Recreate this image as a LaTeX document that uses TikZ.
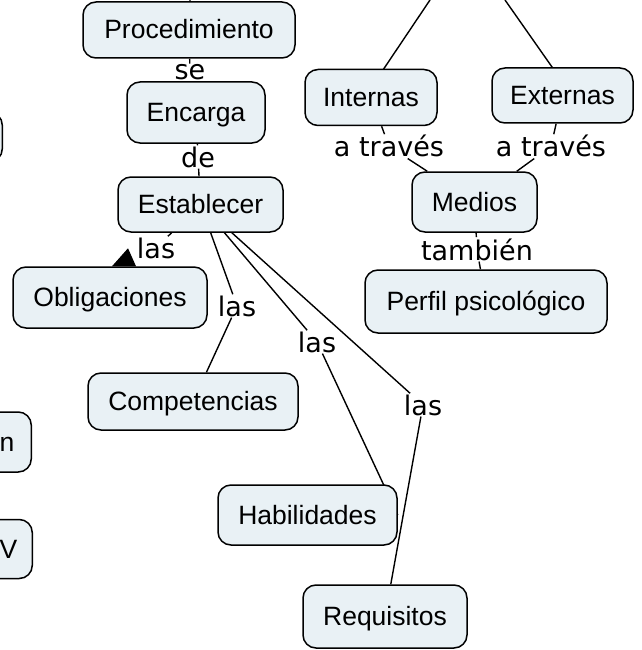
\documentclass[tikz,border=0pt]{standalone}
\usepackage{fontspec}
\setmainfont{Liberation Sans}
\newfontfamily\linkfont{DejaVu Sans}
\usetikzlibrary{calc, backgrounds}
\definecolor{conceptfill}{RGB}{233, 241, 245}

\tikzset{
  concept/.style={draw=black, fill=conceptfill, rounded corners=13pt, line width=1.5pt, inner sep=0pt, text height=18pt, text depth=0pt, font=\fontsize{26.5}{30}\selectfont},
  linklabel/.style={anchor=base, inner sep=1pt, font=\linkfont\fontsize{27}{30}\selectfont},
  link/.style={line width=1.4pt, black}
}

\begin{document}
\begin{tikzpicture}[x=1pt, y=-1pt]
  \useasboundingbox (0,0) rectangle (641,650);

  % Concepts, left column
  \node[concept, minimum width=212pt, minimum height=56pt] (proc) at (189,30) {Procedimiento};
  \node[concept, minimum width=138pt, minimum height=61pt] (enc) at (196,112.5) {Encarga};
  \node[concept, minimum width=165pt, minimum height=55pt] (est) at (200.5,204.5) {Establecer};
  \node[concept, minimum width=194pt, minimum height=61pt] (obl) at (110,297.5) {Obligaciones};
  \node[concept, minimum width=210pt, minimum height=57pt] (comp) at (193,401.5) {Competencias};
  \node[concept, minimum width=179pt, minimum height=60pt] (hab) at (307.5,515) {Habilidades};
  \node[concept, minimum width=164pt, minimum height=63pt] (req) at (385,616.5) {Requisitos};

  % Concepts, right column
  \node[concept, minimum width=132pt, minimum height=56pt] (int) at (371,97.5) {Internas};
  \node[concept, minimum width=141pt, minimum height=55pt] (ext) at (562.5,95.5) {Externas};
  \node[concept, minimum width=125pt, minimum height=60pt] (med) at (474.5,202) {Medios};
  \node[concept, minimum width=242pt, minimum height=63pt] (perf) at (486,301.5) {Perfil psicológico};

  % Concepts cut off at the left edge
  \node[concept, anchor=east, minimum width=120pt, minimum height=50pt] (lpa) at (3,137) {};
  \node[concept, anchor=east, minimum width=120pt, minimum height=60pt, text width=86pt, align=right] (lpn) at (32,442) {n};
  \node[concept, anchor=east, minimum width=120pt, minimum height=59pt, text width=90pt, align=right] (lpv) at (33,549) {V};

  % Linking phrases
  \node[linklabel] (se) at (190,80) {se};
  \node[linklabel] (de) at (198,167) {de};
  \node[linklabel] (las1) at (156,258) {las};
  \node[linklabel] (las2) at (237,316) {las};
  \node[linklabel] (las3) at (317,352) {las};
  \node[linklabel] (las4) at (423,415) {las};
  \node[linklabel] (at1) at (389,157) {a través};
  \node[linklabel] (at2) at (551,157) {a través};
  \node[linklabel] (tamb) at (477,260) {también};

  % Free ends above the frame
  \coordinate (topproc) at (190,0);
  \coordinate (topint) at (430,0);
  \coordinate (topext) at (505,0);

  % Connectors
  \begin{scope}[on background layer]
    \draw[link] (topproc) -- (proc);
    \draw[link] (topint) -- ($(int.center)+(-6.5,0)$);
    \draw[link] (topext) -- ($(ext.center)+(9.5,0)$);
    \draw[link] (proc) -- (se) -- (enc);
    \draw[link] (enc) -- (de) -- (est);
    \draw[link] (est) -- (las1);
    \draw[link] (est) -- (las2) -- (comp);
    \draw[link] (est) -- (las3) -- (hab.east);
    \draw[link] (est) -- (las4) -- (req);
    \draw[link] (int) -- (at1) -- (med);
    \draw[link] (ext) -- (at2) -- (med);
    \draw[link] (med) -- (tamb) -- (perf);
  \end{scope}

  % Arrowhead on Obligaciones
  \fill ($(obl.north)+(2,0)$) -- ($(obl.north)+(18,-18)$) -- ($(obl.north)+(26,0)$) -- cycle;
\end{tikzpicture}
\end{document}
